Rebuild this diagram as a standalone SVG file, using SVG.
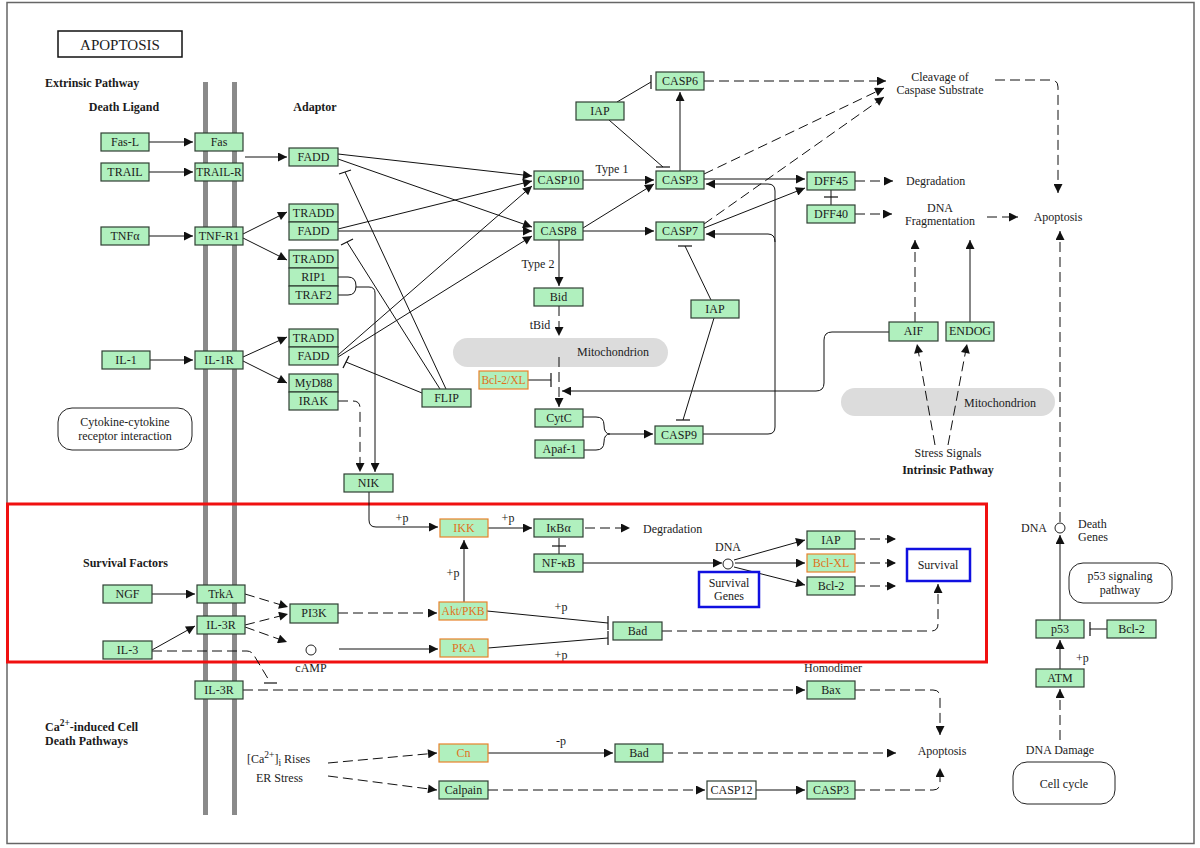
<svg xmlns="http://www.w3.org/2000/svg" width="1200" height="848" viewBox="0 0 1200 848">
<style>
text{font-family:"Liberation Serif","Times New Roman",serif;font-size:12px;fill:#1b1b1b}
.n rect{fill:#b0f0be;stroke:#2f3f33;stroke-width:1.2}
.n text{text-anchor:middle}
.o rect{fill:#b0f0be;stroke:#e8822a;stroke-width:1.2}
.o text{text-anchor:middle;fill:#e07020}
.w rect{fill:#fff;stroke:#2f3f33;stroke-width:1.2}
.w text{text-anchor:middle}
.c{text-anchor:middle}
.b{font-weight:bold;font-size:12px}
.sm{font-size:11.5px}
.sup{font-size:9.5px}
.l{fill:none;stroke:#111;stroke-width:1}
.d{fill:none;stroke:#111;stroke-width:1;stroke-dasharray:10,5}
.a{marker-end:url(#arr)}
.t{fill:none;stroke:#111;stroke-width:1.2}
.mem{fill:#8a8a8a}
.mito{fill:#dcdcdc}
.rb{fill:#fff;stroke:#222;stroke-width:1}
.circ{fill:#fff;stroke:#222;stroke-width:1}
</style>
<defs>
<marker id="arr" viewBox="0 0 10 10" refX="10" refY="5" markerWidth="11" markerHeight="9" markerUnits="userSpaceOnUse" orient="auto">
<path d="M0,0 L10,5 L0,10 z" fill="#111"/>
</marker>
</defs>
<rect x="7" y="2.5" width="1187" height="841" fill="#fff" stroke="#666" stroke-width="1.5"/>

<g id="title">
<rect x="58" y="31" width="124" height="26" fill="#fff" stroke="#111" stroke-width="1.5"/>
<text x="120" y="50" class="c" style="font-size:15px">APOPTOSIS</text>
</g>

<g id="membrane">
<rect x="203" y="82" width="5" height="733" class="mem"/>
<rect x="232" y="82" width="5" height="733" class="mem"/>
</g>

<g id="mitochondria">
<rect x="453" y="338" width="215" height="29" rx="14.5" class="mito"/>
<text x="613" y="356" class="c">Mitochondrion</text>
<rect x="841" y="388" width="214" height="28" rx="14" class="mito"/>
<text x="1000" y="407" class="c">Mitochondrion</text>
</g>

<g id="labels">
<text x="45" y="87" class="b">Extrinsic Pathway</text>
<text x="124" y="111" class="b c">Death Ligand</text>
<text x="315" y="111" class="b c">Adaptor</text>
<text x="612" y="173" class="c">Type 1</text>
<text x="538" y="268" class="c">Type 2</text>
<text x="540" y="329" class="c">tBid</text>
<text x="940" y="81" class="c">Cleavage of</text>
<text x="940" y="94" class="c">Caspase Substrate</text>
<text x="906" y="185">Degradation</text>
<text x="940" y="212" class="c">DNA</text>
<text x="940" y="225" class="c">Fragmentation</text>
<text x="1058" y="221" class="c">Apoptosis</text>
<text x="948" y="457" class="c">Stress Signals</text>
<text x="948" y="474" class="b c">Intrinsic Pathway</text>
<text x="402" y="522" class="c">+p</text>
<text x="508" y="522" class="c">+p</text>
<text x="643" y="533">Degradation</text>
<text x="728" y="551" class="c">DNA</text>
<text x="453" y="577" class="c">+p</text>
<text x="561" y="611" class="c">+p</text>
<text x="561" y="659" class="c">+p</text>
<text x="83" y="567" class="b">Survival Factors</text>
<text x="311" y="672" class="c">cAMP</text>
<text x="833" y="672" class="c">Homodimer</text>
<text x="45" y="731" class="b">Ca<tspan dy="-5" class="sup">2+</tspan><tspan dy="5">-induced Cell</tspan></text>
<text x="45" y="745" class="b">Death Pathways</text>
<text x="247" y="763">[Ca<tspan dy="-5" class="sup">2+</tspan><tspan dy="5">]</tspan><tspan dy="3" class="sup">i</tspan><tspan dy="-3"> Rises</tspan></text>
<text x="256" y="782">ER Stress</text>
<text x="561" y="745" class="c">-p</text>
<text x="942" y="755" class="c">Apoptosis</text>
<text x="1047" y="532" text-anchor="end">DNA</text>
<text x="1078" y="528">Death</text>
<text x="1078" y="541">Genes</text>
<text x="1076" y="662">+p</text>
<text x="1060" y="754" class="c">DNA Damage</text>
</g>

<g id="red-box"><rect x="7.5" y="504" width="979" height="158" fill="none" stroke="#f01010" stroke-width="3"/></g>

<g id="connectors">
<path class="l a" d="M149,142 H193"/>
<path class="l a" d="M149,172 H193"/>
<path class="l a" d="M149,236 H193"/>
<path class="l a" d="M245,157 H287"/>
<path class="l a" d="M243,234 L287,212"/>
<path class="l a" d="M243,238 L287,260"/>
<path class="l a" d="M150,360 H193"/>
<path class="l a" d="M243,357 L287,337"/>
<path class="l a" d="M243,361 L287,383"/>
<path class="l a" d="M338,154 L532,176"/>
<path class="l a" d="M338,159 L532,227"/>
<path class="l a" d="M338,229 L532,181"/>
<path class="l a" d="M338,231 L532,231"/>
<path class="l a" d="M338,355 L532,186"/>
<path class="l a" d="M338,357 L532,236"/>
<path class="l" d="M446,389 L345,172"/><path class="t" d="M339,174 L351,170"/>
<path class="l" d="M440,389 L347,242"/><path class="t" d="M341,245 L353,239"/>
<path class="l" d="M422,393 L346,362"/><path class="t" d="M343,368 L349,356"/>
<path class="l" d="M338,277 H348 Q356,277 356,286 Q356,295 348,295 H338"/>
<path class="l a" d="M356,287 H369 Q375,287 375,293 V472"/>
<path class="d a" d="M338,401 H353 Q360,401 360,408 V472"/>
<path class="l a" d="M369,492 V520 Q369,527 376,527 H438"/>
<path class="l a" d="M583,180 H654"/>
<path class="l a" d="M583,228 L654,184"/>
<path class="l a" d="M583,231 H654"/>
<path class="l a" d="M559,240 V286"/>
<path class="l a" d="M680,171 V92"/>
<path class="l" d="M617,102 L651,82"/><path class="t" d="M651,75 V89"/>
<path class="l" d="M609,120 L663,167"/><path class="t" d="M656,167 H670"/>
<path class="l a" d="M704,179 H805"/>
<path class="l a" d="M704,228 L805,188"/>
<path class="l a" d="M703,434 H768 Q775,434 775,427 V191 Q775,184 768,184 H706"/>
<path class="l a" d="M775,242 Q775,234 768,234 H706"/>
<path class="l" d="M711,300 L685,246"/><path class="t" d="M678,246 H692"/>
<path class="l" d="M714,318 L683,420"/><path class="t" d="M676,420 H690"/>
<path class="l" d="M583,417 H596 Q604,417 604,425 Q604,434 610,434"/>
<path class="l" d="M583,450 H596 Q604,450 604,442 Q604,434 610,434"/>
<path class="l a" d="M610,434 H653"/>
<path class="d a" d="M559,306 V336"/>
<path class="d a" d="M559,357 V407"/>
<path class="l" d="M528,380 H551"/><path class="t" d="M551,373 V387"/>
<path class="l a" d="M889,332 H832 Q824,332 824,340 V383 Q824,391 816,391 H562"/>
<path class="d a" d="M704,81 H886"/>
<path class="d a" d="M704,174 L884,88"/>
<path class="d a" d="M704,224 L884,97"/>
<path class="d a" d="M995,80 H1051 Q1058,80 1058,87 V193"/>
<path class="d a" d="M855,181 H893"/>
<path class="d a" d="M855,214 H892"/>
<path class="l" d="M831,190 V205"/><path class="t" d="M824,197 H838"/>
<path class="d a" d="M987,217 H1018"/>
<path class="d a" d="M915,322 V240"/>
<path class="l a" d="M970,322 V240"/>
<path class="d a" d="M935,445 L917,344"/>
<path class="d a" d="M948,445 L967,344"/>
<path class="d a" d="M1060,522 V231"/>
<path class="l a" d="M1060,620 V535"/>
<path class="l a" d="M1060,669 V640"/>
<path class="d a" d="M1060,740 V689"/>
<path class="l" d="M1107,629 H1090"/><path class="t" d="M1090,622 V636"/>
<path class="l a" d="M152,594 H195"/>
<path class="l a" d="M152,650 L195,626"/>
<path class="d a" d="M245,594 L288,607"/>
<path class="d a" d="M245,625 L288,614"/>
<path class="d a" d="M245,627 L287,642"/>
<path class="d" d="M152,651 H247 Q252,651 255,657 L270,682"/><path class="t" d="M264,683 H277"/>
<path class="d a" d="M338,613 H437"/>
<path class="l a" d="M339,649 H438"/>
<path class="l a" d="M464,602 V540"/>
<path class="l" d="M487,611 L608,623"/><path class="t" d="M608,616 V630"/>
<path class="l" d="M488,648 L608,638"/><path class="t" d="M608,631 V645"/>
<path class="l a" d="M488,528 H532"/>
<path class="d a" d="M585,528 H630"/>
<path class="l" d="M559,538 V554"/><path class="t" d="M552,546 H566"/>
<path class="l a" d="M583,563 H722"/>
<path class="l a" d="M734,560 L805,540"/>
<path class="l a" d="M735,563 H805"/>
<path class="l a" d="M734,567 L805,585"/>
<path class="d a" d="M855,539 H896"/>
<path class="d a" d="M855,563 H896"/>
<path class="d a" d="M855,586 H896"/>
<path class="d a" d="M662,631 H931 Q938,631 938,624 V584"/>
<path class="d a" d="M243,690 H805"/>
<path class="d a" d="M855,690 H933 Q940,690 940,697 V735"/>
<path class="d a" d="M328,763 L437,753"/>
<path class="d a" d="M328,776 L437,790"/>
<path class="l a" d="M488,753 H613"/>
<path class="d a" d="M663,753 H896"/>
<path class="d a" d="M488,790 H705"/>
<path class="l a" d="M756,790 H805"/>
<path class="d a" d="M855,790 H933 Q940,790 940,783 V768"/>
</g>

<g id="circles">
<circle cx="728" cy="564" r="5" class="circ"/>
<circle cx="311" cy="650" r="5" class="circ"/>
<circle cx="1060" cy="528" r="5" class="circ"/>
</g>

<g id="cytokine"><rect x="58" y="408" width="134" height="42" rx="14" class="rb"/><text x="125" y="426" class="c">Cytokine-cytokine</text><text x="125" y="440" class="c">receptor interaction</text></g>
<g id="p53-pathway"><rect x="1069" y="563" width="103" height="40" rx="14" class="rb"/><text x="1120" y="580" class="c">p53 signaling</text><text x="1120" y="594" class="c">pathway</text></g>
<g id="cell-cycle"><rect x="1013" y="762" width="102" height="42" rx="14" class="rb"/><text x="1064" y="788" class="c">Cell cycle</text></g>
<g id="survival-genes"><rect x="699" y="572" width="60" height="35" fill="#fff" stroke="#1010e0" stroke-width="2.5"/><text x="729" y="587" class="c">Survival</text><text x="729" y="600" class="c">Genes</text></g>
<g id="survival"><rect x="907" y="549" width="63" height="32" fill="#fff" stroke="#1010e0" stroke-width="2.5"/><text x="938" y="569" class="c">Survival</text></g>

<g id="FasL" class="n"><rect x="101" y="133" width="48" height="18"/><text x="125" y="146">Fas-L</text></g>
<g id="Fas" class="n"><rect x="195" y="133" width="48" height="18"/><text x="219" y="146">Fas</text></g>
<g id="TRAIL" class="n"><rect x="101" y="163" width="48" height="18"/><text x="125" y="176">TRAIL</text></g>
<g id="TRAILR" class="n"><rect x="195" y="163" width="48" height="18"/><text x="219" y="176" class="sm">TRAIL-R</text></g>
<g id="TNFa" class="n"><rect x="101" y="227" width="48" height="18"/><text x="125" y="240">TNFα</text></g>
<g id="TNFR1" class="n"><rect x="195" y="227" width="48" height="18"/><text x="219" y="240">TNF-R1</text></g>
<g id="FADD1" class="n"><rect x="289" y="148" width="49" height="18"/><text x="313.5" y="161">FADD</text></g>
<g id="TRADD2" class="n"><rect x="289" y="204" width="49" height="18"/><text x="313.5" y="217">TRADD</text></g>
<g id="FADD2" class="n"><rect x="289" y="222" width="49" height="18"/><text x="313.5" y="235">FADD</text></g>
<g id="TRADD3" class="n"><rect x="289" y="250" width="49" height="18"/><text x="313.5" y="263">TRADD</text></g>
<g id="RIP1" class="n"><rect x="289" y="268" width="49" height="18"/><text x="313.5" y="281">RIP1</text></g>
<g id="TRAF2" class="n"><rect x="289" y="286" width="49" height="18"/><text x="313.5" y="299">TRAF2</text></g>
<g id="IL1" class="n"><rect x="102" y="351" width="48" height="18"/><text x="126" y="364">IL-1</text></g>
<g id="IL1R" class="n"><rect x="195" y="351" width="48" height="18"/><text x="219" y="364">IL-1R</text></g>
<g id="TRADD4" class="n"><rect x="289" y="329" width="49" height="18"/><text x="313.5" y="342">TRADD</text></g>
<g id="FADD4" class="n"><rect x="289" y="347" width="49" height="18"/><text x="313.5" y="360">FADD</text></g>
<g id="MyD88" class="n"><rect x="289" y="374" width="49" height="18"/><text x="313.5" y="387">MyD88</text></g>
<g id="IRAK" class="n"><rect x="289" y="392" width="49" height="18"/><text x="313.5" y="405">IRAK</text></g>
<g id="NIK" class="n"><rect x="344" y="474" width="49" height="18"/><text x="368.5" y="487">NIK</text></g>
<g id="FLIP" class="n"><rect x="422" y="389" width="49" height="18"/><text x="446.5" y="402">FLIP</text></g>
<g id="CASP10" class="n"><rect x="534" y="171" width="49" height="18"/><text x="558.5" y="184">CASP10</text></g>
<g id="CASP8" class="n"><rect x="534" y="222" width="49" height="18"/><text x="558.5" y="235">CASP8</text></g>
<g id="Bid" class="n"><rect x="534" y="288" width="49" height="18"/><text x="558.5" y="301">Bid</text></g>
<g id="Bcl2XL" class="o"><rect x="479" y="371" width="49" height="18"/><text x="503.5" y="384" class="sm">Bcl-2/XL</text></g>
<g id="CytC" class="n"><rect x="535" y="409" width="48" height="18"/><text x="559" y="422">CytC</text></g>
<g id="Apaf1" class="n"><rect x="535" y="440" width="49" height="18"/><text x="559.5" y="453">Apaf-1</text></g>
<g id="CASP9" class="n"><rect x="655" y="426" width="48" height="18"/><text x="679" y="439">CASP9</text></g>
<g id="IAP1" class="n"><rect x="576" y="102" width="48" height="18"/><text x="600" y="115">IAP</text></g>
<g id="CASP6" class="n"><rect x="656" y="72" width="48" height="18"/><text x="680" y="85">CASP6</text></g>
<g id="CASP3" class="n"><rect x="656" y="171" width="48" height="18"/><text x="680" y="184">CASP3</text></g>
<g id="CASP7" class="n"><rect x="656" y="222" width="48" height="18"/><text x="680" y="235">CASP7</text></g>
<g id="IAP2" class="n"><rect x="691" y="300" width="48" height="18"/><text x="715" y="313">IAP</text></g>
<g id="DFF45" class="n"><rect x="807" y="172" width="48" height="18"/><text x="831" y="185">DFF45</text></g>
<g id="DFF40" class="n"><rect x="807" y="205" width="48" height="18"/><text x="831" y="218">DFF40</text></g>
<g id="AIF" class="n"><rect x="889" y="322" width="49" height="19"/><text x="913.5" y="335">AIF</text></g>
<g id="ENDOG" class="n"><rect x="946" y="322" width="48" height="19"/><text x="970" y="335">ENDOG</text></g>
<g id="IKK" class="o"><rect x="440" y="519" width="48" height="18"/><text x="464" y="532">IKK</text></g>
<g id="IkBa" class="n"><rect x="534" y="519" width="49" height="18"/><text x="558.5" y="532">IκBα</text></g>
<g id="NFkB" class="n"><rect x="534" y="554" width="49" height="18"/><text x="558.5" y="567">NF-κB</text></g>
<g id="IAP3" class="n"><rect x="807" y="531" width="48" height="18"/><text x="831" y="544">IAP</text></g>
<g id="BclXL" class="o"><rect x="807" y="554" width="48" height="18"/><text x="831" y="567">Bcl-XL</text></g>
<g id="Bcl2a" class="n"><rect x="807" y="577" width="48" height="18"/><text x="831" y="590">Bcl-2</text></g>
<g id="NGF" class="n"><rect x="103" y="585" width="49" height="18"/><text x="127.5" y="598">NGF</text></g>
<g id="TrkA" class="n"><rect x="197" y="585" width="48" height="18"/><text x="221" y="598">TrkA</text></g>
<g id="IL3R1" class="n"><rect x="197" y="616" width="48" height="18"/><text x="221" y="629">IL-3R</text></g>
<g id="IL3" class="n"><rect x="103" y="641" width="49" height="18"/><text x="127.5" y="654">IL-3</text></g>
<g id="PI3K" class="n"><rect x="290" y="604" width="48" height="19"/><text x="314" y="617">PI3K</text></g>
<g id="AktPKB" class="o"><rect x="439" y="602" width="48" height="18"/><text x="463" y="615" class="sm">Akt/PKB</text></g>
<g id="PKA" class="o"><rect x="440" y="639" width="48" height="18"/><text x="464" y="652">PKA</text></g>
<g id="Bad1" class="n"><rect x="613" y="622" width="49" height="18"/><text x="637.5" y="635">Bad</text></g>
<g id="IL3R2" class="n"><rect x="195" y="681" width="48" height="18"/><text x="219" y="694">IL-3R</text></g>
<g id="Bax" class="n"><rect x="807" y="681" width="48" height="18"/><text x="831" y="694">Bax</text></g>
<g id="Cn" class="o"><rect x="439" y="744" width="49" height="18"/><text x="463.5" y="757">Cn</text></g>
<g id="Bad2" class="n"><rect x="615" y="744" width="48" height="18"/><text x="639" y="757">Bad</text></g>
<g id="Calpain" class="n"><rect x="439" y="781" width="49" height="18"/><text x="463.5" y="794">Calpain</text></g>
<g id="CASP12" class="w"><rect x="707" y="781" width="49" height="18"/><text x="731.5" y="794">CASP12</text></g>
<g id="CASP3b" class="n"><rect x="807" y="781" width="48" height="18"/><text x="831" y="794">CASP3</text></g>
<g id="p53" class="n"><rect x="1036" y="620" width="48" height="18"/><text x="1060" y="633">p53</text></g>
<g id="Bcl2b" class="n"><rect x="1107" y="620" width="49" height="18"/><text x="1131.5" y="633">Bcl-2</text></g>
<g id="ATM" class="n"><rect x="1036" y="669" width="48" height="18"/><text x="1060" y="682">ATM</text></g>
</svg>
